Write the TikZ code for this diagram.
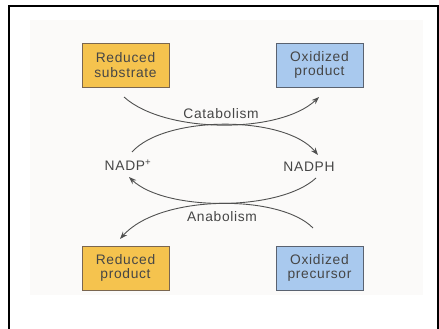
\documentclass[tikz,border=0pt]{standalone}
\usepackage{fontspec}
\setmainfont{Liberation Sans}[LetterSpace=5]
\usetikzlibrary{arrows.meta}
\definecolor{inkgray}{HTML}{464646}
\definecolor{arcgray}{HTML}{505050}
\definecolor{redfill}{HTML}{F5C34E}
\definecolor{redline}{HTML}{7A6650}
\definecolor{oxfill}{HTML}{A9C9EE}
\definecolor{oxline}{HTML}{5A6270}
\definecolor{panel}{HTML}{FBFAF9}
\tikzset{
  lbl/.style={text=inkgray, font=\fontsize{13.8}{14.8}\selectfont, align=center, inner sep=0pt},
  molbox/.style={lbl, minimum width=87pt, minimum height=44pt, line width=0.8pt},
  reduced/.style={molbox, fill=redfill, draw=redline},
  oxidized/.style={molbox, fill=oxfill, draw=oxline},
  flow/.style={draw=arcgray, line width=0.9pt, -{Stealth[length=7.5pt,width=5.5pt]}}
}
\begin{document}
\begin{tikzpicture}[x=1pt, y=-1pt]
  \useasboundingbox (0,0) rectangle (439,329);
  % frame and panel
  \fill[white] (0,0) rectangle (439,329);
  \fill[panel] (30,20) rectangle (423,295);
  \draw[black, line width=2pt] (9,329) -- (9,6) -- (437.8,6) -- (437.8,329);

  % boxes
  \node[reduced]  (rs) at (125.5,65)  {Reduced\\substrate};
  \node[oxidized] (op) at (319.5,65)  {Oxidized\\product};
  \node[reduced]  (rp) at (125.5,268) {Reduced\\product};
  \node[oxidized] (oc) at (319.5,268) {Oxidized\\precursor};

  % cofactors
  \node[lbl] (nadp)  at (128,165) {NADP\textsuperscript{+}};
  \node[lbl] (nadph) at (309,167) {NADPH};

  % arc end points
  \coordinate (c1) at (124,97);
  \coordinate (c2) at (319,97);
  \coordinate (u1) at (132,152);
  \coordinate (u2) at (318,155);
  \coordinate (l1) at (316,178);
  \coordinate (l2) at (129,177);
  \coordinate (a1) at (313,228);
  \coordinate (a2) at (120,239);

  % catabolism: substrate to product, NADP+ to NADPH
  \draw[flow] (c1) .. controls (165,134) and (280,134) .. (c2);
  \draw[flow] (u1) .. controls (165,115) and (285,115) .. (u2);
  % anabolism: NADPH to NADP+, precursor to product
  \draw[flow] (l1) .. controls (280,211.5) and (165,211.5) .. (l2);
  \draw[flow] (a1) .. controls (280,194) and (160,194) .. (a2);

  \node[lbl] (cat) at (221,114) {Catabolism};
  \node[lbl] (ana) at (222,217) {Anabolism};
\end{tikzpicture}
\end{document}
